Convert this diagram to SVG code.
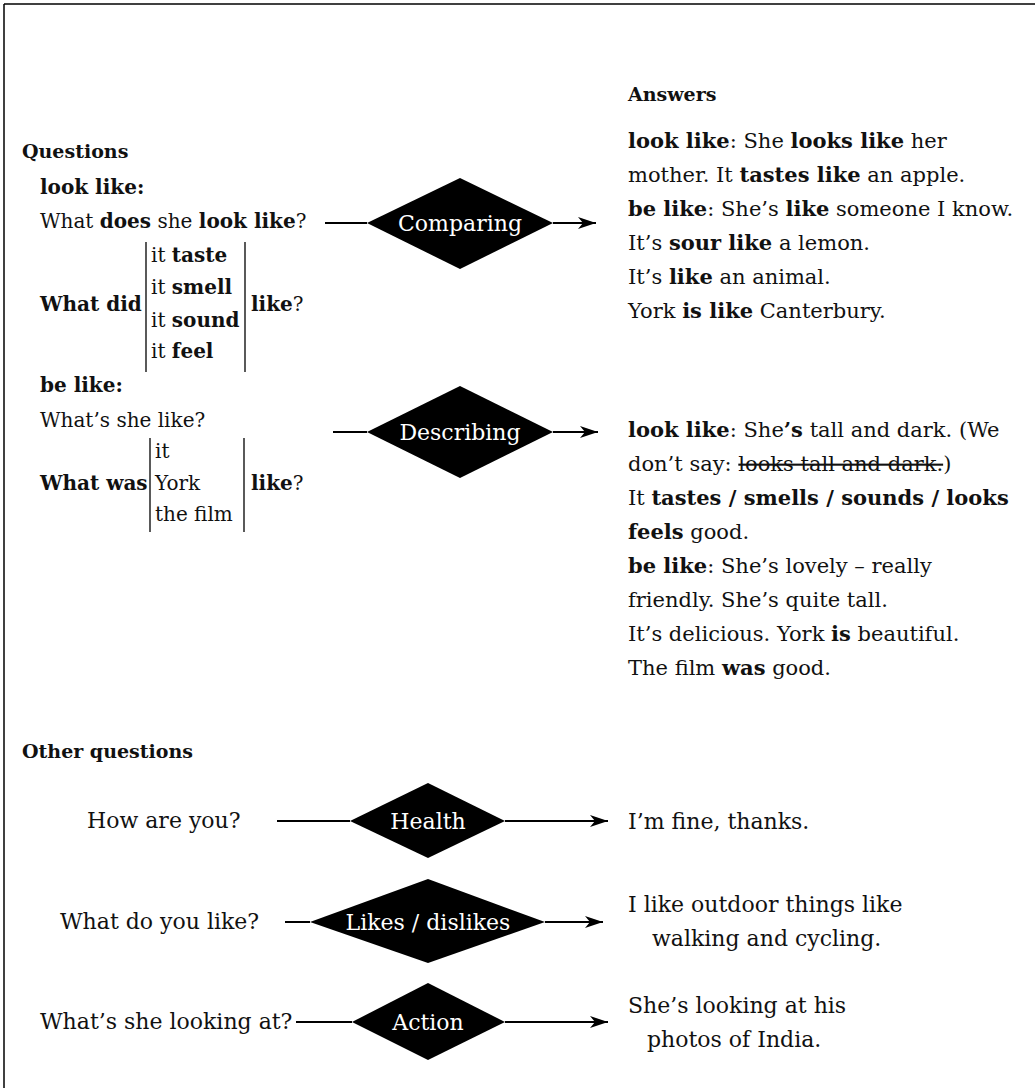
<svg xmlns="http://www.w3.org/2000/svg" width="1035" height="1088" viewBox="0 0 1035 1088">
<defs>
<style>
text{font-family:"DejaVu Serif","Liberation Serif",serif;font-size:21px;fill:#111}
.q{font-size:20px}
.o{font-size:22px}
.b{font-weight:bold}
.h{font-weight:bold;font-size:19px}
.lbl{fill:#fff;font-size:22px;text-anchor:middle}
.dia{fill:#000}
.con line{stroke:#000;stroke-width:2}
.br{stroke:#000;stroke-width:1.3}
.frame{stroke:#000;stroke-width:1.5}
</style>
<marker id="ah" markerUnits="userSpaceOnUse" markerWidth="20" markerHeight="12" refX="18" refY="6" orient="auto">
<path d="M0,0 L18,6 L0,12 L5,6 z" fill="#000"/>
</marker>
</defs>
<rect width="1035" height="1088" fill="#fff"/>
<g id="frame">
<line class="frame" x1="4" y1="4" x2="1035" y2="4"/>
<line class="frame" x1="4" y1="4" x2="4" y2="1088"/>
</g>

<g id="headings">
<text x="628" y="101" class="h">Answers</text>
<text x="22" y="158" class="h">Questions</text>
<text x="22" y="758" class="h">Other questions</text>
</g>

<g id="q-comparing">
<text x="40" y="194" class="q b">look like:</text>
<text x="40" y="228" class="q">What <tspan class="b">does</tspan> she <tspan class="b">look like</tspan>?</text>
<text x="40" y="311" class="q b">What did</text>
<text x="151" y="262" class="q">it <tspan class="b">taste</tspan></text>
<text x="151" y="294" class="q">it <tspan class="b">smell</tspan></text>
<text x="151" y="327" class="q">it <tspan class="b">sound</tspan></text>
<text x="151" y="358" class="q">it <tspan class="b">feel</tspan></text>
<line class="br" x1="146" y1="242" x2="146" y2="372"/>
<line class="br" x1="245" y1="242" x2="245" y2="372"/>
<text x="251" y="311" class="q"><tspan class="b">like</tspan>?</text>
</g>

<g id="q-describing">
<text x="40" y="392" class="q b">be like:</text>
<text x="40" y="427" class="q">What’s she like?</text>
<text x="40" y="490" class="q b">What was</text>
<text x="155" y="458" class="q">it</text>
<text x="155" y="490" class="q">York</text>
<text x="155" y="521" class="q">the film</text>
<line class="br" x1="150" y1="438" x2="150" y2="532"/>
<line class="br" x1="244" y1="438" x2="244" y2="532"/>
<text x="251" y="490" class="q"><tspan class="b">like</tspan>?</text>
</g>

<g id="a-comparing">
<text x="628" y="148"><tspan class="b">look like</tspan>: She <tspan class="b">looks like</tspan> her</text>
<text x="628" y="182">mother. It <tspan class="b">tastes like</tspan> an apple.</text>
<text x="628" y="216"><tspan class="b">be like</tspan>: She’s <tspan class="b">like</tspan> someone I know.</text>
<text x="628" y="250">It’s <tspan class="b">sour like</tspan> a lemon.</text>
<text x="628" y="284">It’s <tspan class="b">like</tspan> an animal.</text>
<text x="628" y="318">York <tspan class="b">is like</tspan> Canterbury.</text>
</g>

<g id="a-describing">
<text x="628" y="437"><tspan class="b">look like</tspan>: She<tspan class="b">’s</tspan> tall and dark. (We</text>
<text x="628" y="471">don’t say: <tspan text-decoration="line-through">looks tall and dark.</tspan>)</text>
<text x="628" y="505">It <tspan class="b">tastes / smells / sounds / looks</tspan></text>
<text x="628" y="539"><tspan class="b">feels</tspan> good.</text>
<text x="628" y="573"><tspan class="b">be like</tspan>: She’s lovely – really</text>
<text x="628" y="607">friendly. She’s quite tall.</text>
<text x="628" y="641">It’s delicious. York <tspan class="b">is</tspan> beautiful.</text>
<text x="628" y="675">The film <tspan class="b">was</tspan> good.</text>
</g>

<g id="other-q">
<text x="87" y="828" class="o">How are you?</text>
<text x="60" y="929" class="o">What do you like?</text>
<text x="40" y="1029" class="o">What’s she looking at?</text>
</g>
<g id="other-a">
<text x="628" y="829" class="o">I’m fine, thanks.</text>
<text x="628" y="912" class="o">I like outdoor things like</text>
<text x="652" y="946" class="o">walking and cycling.</text>
<text x="628" y="1013" class="o">She’s looking at his</text>
<text x="647" y="1047" class="o">photos of India.</text>
</g>

<g id="connectors" class="con">
<line x1="325" y1="223" x2="367" y2="223"/>
<line x1="553" y1="223" x2="596" y2="223" marker-end="url(#ah)"/>
<line x1="333" y1="432" x2="367" y2="432"/>
<line x1="553" y1="432" x2="598" y2="432" marker-end="url(#ah)"/>
<line x1="277" y1="821" x2="350" y2="821"/>
<line x1="505" y1="821" x2="608" y2="821" marker-end="url(#ah)"/>
<line x1="285" y1="922" x2="310" y2="922"/>
<line x1="545" y1="922" x2="603" y2="922" marker-end="url(#ah)"/>
<line x1="296" y1="1022" x2="352" y2="1022"/>
<line x1="505" y1="1022" x2="608" y2="1022" marker-end="url(#ah)"/>
</g>

<g id="node-comparing">
<polygon class="dia" points="367,223 460,178 553,223 460,269"/>
<text x="460" y="231" class="lbl">Comparing</text>
</g>
<g id="node-describing">
<polygon class="dia" points="367,432 460,386 553,432 460,478"/>
<text x="460" y="440" class="lbl">Describing</text>
</g>
<g id="node-health">
<polygon class="dia" points="350,821 428,783 505,821 428,858"/>
<text x="428" y="829" class="lbl">Health</text>
</g>
<g id="node-likes">
<polygon class="dia" points="310,922 428,879 545,922 428,963"/>
<text x="428" y="930" class="lbl">Likes / dislikes</text>
</g>
<g id="node-action">
<polygon class="dia" points="352,1022 428,983 505,1022 428,1060"/>
<text x="428" y="1030" class="lbl">Action</text>
</g>
</svg>
